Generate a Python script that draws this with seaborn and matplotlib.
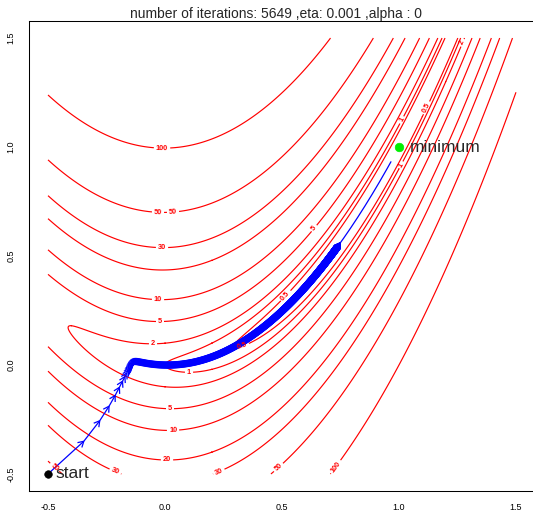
import numpy as np
import matplotlib
matplotlib.use("Agg")
import matplotlib.pyplot as plt
import seaborn as sns
from matplotlib.collections import LineCollection

sns.set_style("white")
plt.rcParams["font.family"] = ["Liberation Sans", "DejaVu Sans"]

# ---------------- data ----------------
x_range = [-0.5, 1.5]
y_range = [-0.5, 1.5]
levels = [0.5, 1, 2, 5, 10, 20, 30, 50, 100]
start_point = [-0.5, -0.5]
minimum_point = [1.0, 1.0]
eta = 0.001
alpha = 0.0
n_iter = 5649
tick_vals = [-0.5, 0.0, 0.5, 1.0, 1.5]
tick_labels = ["-0.5", "0.0", "0.5", "1.0", "1.5"]
title = "number of iterations: 5649 ,eta: 0.001 ,alpha : 0"


def rosenbrock(x, y):
    return (1 - x) ** 2 + 100 * (y - x ** 2) ** 2


def rosen_grad(x, y):
    gx = -2 * (1 - x) - 400 * x * (y - x ** 2)
    gy = 200 * (y - x ** 2)
    return np.array([gx, gy])


# gradient descent with momentum alpha
pts = [np.array(start_point, dtype=float)]
v = np.zeros(2)
p = pts[0].copy()
for _ in range(n_iter):
    v = alpha * v - eta * rosen_grad(p[0], p[1])
    p = p + v
    pts.append(p.copy())
path = np.array(pts)

gx = np.linspace(x_range[0], x_range[1], 801)
gy = np.linspace(y_range[0], y_range[1], 801)
XX, YY = np.meshgrid(gx, gy)
ZZ = rosenbrock(XX, YY)

# ---------------- figure ----------------
W, H = 533, 516
fig = plt.figure(figsize=(W / 100, H / 100), dpi=100)
left, right, top, bottom = 29.3, 534.7, 20.6, 491.4
ax = fig.add_axes([left / W, (H - bottom) / H, (right - left) / W, (bottom - top) / H])
ax.set_xlim(-0.58, 1.58)
ax.set_ylim(-0.58, 1.58)

cs = ax.contour(XX, YY, ZZ, levels=levels, colors="red", linewidths=0.85)


def px2data(px, py):
    return ((px - 48) / 234 - 0.5, 1.5 - (py - 38) / 218)


label_px = [(162, 149), (158, 212), (173, 212), (162, 248), (158, 300), (160, 322),
            (153, 344), (189, 372), (170, 409), (173, 430), (167, 460), (219, 472),
            (115, 472), (279, 468), (336, 467), (55, 467), (315, 229), (287, 297),
            (242, 345), (402, 120), (427, 108), (401, 165), (463, 43)]
manual = [px2data(a, b) for a, b in label_px]
ax.clabel(cs, levels, manual=manual, inline=True, inline_spacing=2,
          fontsize=5.3, fmt=lambda v: f"{v:g}")
for t in cs.labelTexts:
    t.set_fontweight("bold")

# path line
sns.lineplot(x=path[:, 0], y=path[:, 1], sort=False, estimator=None,
             color="blue", lw=0.9, ax=ax)

# arrow heads (R arrows(): skipped when shorter than 0.001 inch)
P = ax.transData.transform(path)
d = P[1:] - P[:-1]
seg_len = np.hypot(d[:, 0], d[:, 1])
keep = seg_len > 0.062
tips = P[1:][keep]
u = d[keep] / seg_len[keep][:, None]
L = 6.5
ang = np.deg2rad(30)
segs = []
for s in (1, -1):
    c, sn = np.cos(ang), s * np.sin(ang)
    rot = np.stack([u[:, 0] * c - u[:, 1] * sn, u[:, 0] * sn + u[:, 1] * c], axis=1)
    back = tips - L * rot
    back_d = ax.transData.inverted().transform(back)
    tip_d = ax.transData.inverted().transform(tips)
    segs.extend(np.stack([back_d, tip_d], axis=1))
ax.add_collection(LineCollection(segs, colors="blue", linewidths=0.9))

# start / minimum
sns.scatterplot(x=[start_point[0]], y=[start_point[1]], color="black", s=30,
                edgecolor="black", ax=ax, zorder=5)
sns.scatterplot(x=[minimum_point[0]], y=[minimum_point[1]], color="#00ee00", s=38,
                edgecolor="#00ee00", ax=ax, zorder=5)
ax.text(start_point[0] + 0.03, start_point[1], "start", fontsize=12.5,
        va="center", ha="left")
ax.text(minimum_point[0] + 0.045, minimum_point[1], "minimum", fontsize=12.5,
        va="center", ha="left")

ax.set_xticks(tick_vals)
ax.set_xticklabels(tick_labels)
ax.set_yticks(tick_vals)
ax.set_yticklabels(tick_labels, rotation=90, va="center")
ax.tick_params(direction="out", length=4.3, width=0.75, labelsize=6.5,
               colors="black", pad=4)
ax.tick_params(axis="y", pad=5.5)
for sp in ax.spines.values():
    sp.set_color("black")
    sp.set_linewidth(0.75)
ax.set_xlabel("")
ax.set_ylabel("")

fig.text(276.5 / W, 1 - 14 / H, title, ha="center", va="center", fontsize=10)

fig.savefig("out.png", dpi=100)
